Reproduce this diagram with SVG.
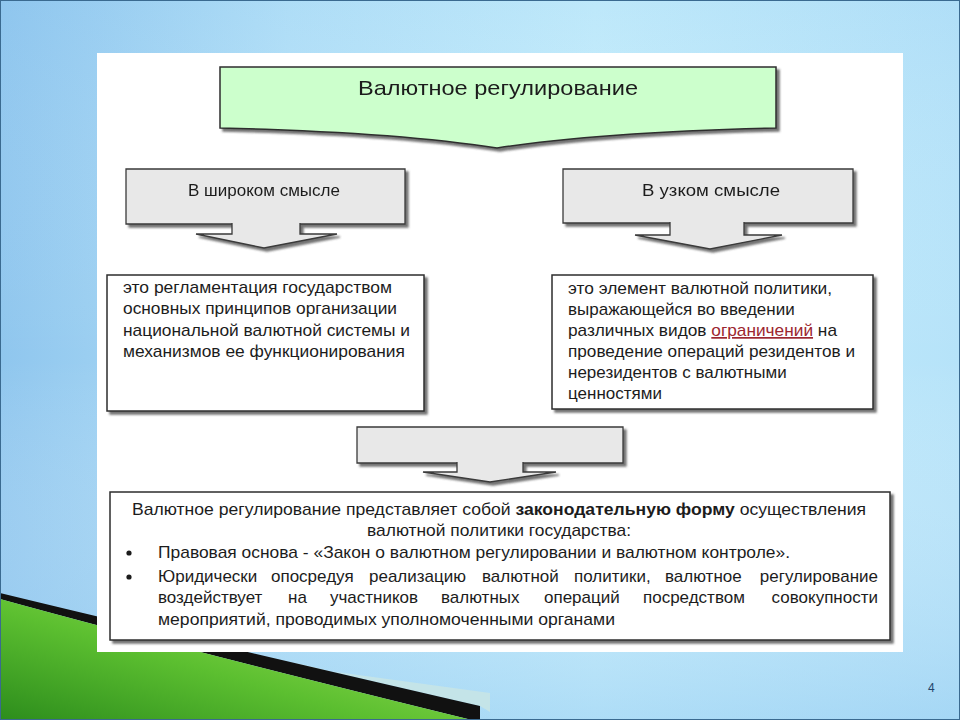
<svg xmlns="http://www.w3.org/2000/svg" width="960" height="720" viewBox="0 0 960 720">
<style>
.t{font-family:"Liberation Sans",Arial,"Noto Sans",sans-serif;font-size:17px;fill:#1c1c1c}
.ttl{font-size:21px}
.lbl{font-size:17px}
.b{font-weight:bold}
.box{fill:#ffffff;stroke:#2e2e2e;stroke-width:1.5}
.grey{fill:#e8e8e8;stroke:#3a3a3a;stroke-width:1.3}
.red{fill:#9c2630;text-decoration:underline}
</style>
<defs>
<linearGradient id="bg" x1="0" y1="0" x2="1" y2="0">
<stop offset="0" stop-color="#8fc6ee"/>
<stop offset="0.3" stop-color="#b4e1f8"/>
<stop offset="0.62" stop-color="#c6eefc"/>
<stop offset="1" stop-color="#b6e3f9"/>
</linearGradient>
<linearGradient id="bgv" x1="0" y1="0" x2="0" y2="1">
<stop offset="0" stop-color="#8cc4ee" stop-opacity="0.15"/>
<stop offset="0.5" stop-color="#ffffff" stop-opacity="0"/>
<stop offset="1" stop-color="#90c8f0" stop-opacity="0.45"/>
</linearGradient>
<linearGradient id="green" x1="0" y1="1" x2="0.9" y2="0.2">
<stop offset="0" stop-color="#2c8c1c"/>
<stop offset="0.5" stop-color="#5cbf30"/>
<stop offset="1" stop-color="#9ae055"/>
</linearGradient>
<filter id="sh" x="-5%" y="-5%" width="115%" height="125%">
<feDropShadow dx="3" dy="3" stdDeviation="1.2" flood-color="#444" flood-opacity="0.75"/>
</filter>
</defs>

<g id="background">
<rect x="0" y="0" width="960" height="720" fill="url(#bg)"/>
<rect x="0" y="0" width="960" height="720" fill="url(#bgv)"/>
<path d="M190,652 L490,693 L490,712 L480,706 L400,687.5 L300,664 L250,656 L230,652 Z" fill="#c4e4e8"/>
<path d="M0,593 Q160,632 480,706 L480,722 Q170,646 0,599 Z" fill="#111"/>
<path d="M0,599 Q170,646 480,722 L0,722 Z" fill="url(#green)"/>
<rect x="0.5" y="0.5" width="959" height="719" fill="none" stroke="#3a6a90" stroke-width="1"/>
<rect x="97" y="53" width="806" height="599" fill="#ffffff"/>
</g>

<g id="title" filter="url(#sh)">
<path d="M220,67 H776 V128 Q600,132 497,148 Q395,132 220,128 Z" fill="#ccffcc" stroke="#2e2e2e" stroke-width="1.5"/>
<text class="t ttl" x="358" y="95" textLength="280" lengthAdjust="spacingAndGlyphs">Валютное регулирование</text>
</g>

<g id="wide-sense" filter="url(#sh)">
<path class="grey" d="M232,224 H126 V169 H405 V224 H300"/>
<text class="t lbl" x="188" y="196" textLength="152" lengthAdjust="spacingAndGlyphs">В широком смысле</text>
</g>

<g id="narrow-sense" filter="url(#sh)">
<path class="grey" d="M670,223 H563 V169 H853 V223 H744"/>
<text class="t lbl" x="642" y="196" textLength="138" lengthAdjust="spacingAndGlyphs">В узком смысле</text>
</g>

<g id="wide-definition">
<rect class="box" x="107" y="275" width="317" height="136" filter="url(#sh)"/>
<text class="t" x="123" y="293" textLength="269" lengthAdjust="spacingAndGlyphs">это регламентация государством</text>
<text class="t" x="123" y="314" textLength="274" lengthAdjust="spacingAndGlyphs">основных принципов организации</text>
<text class="t" x="123" y="336" textLength="287" lengthAdjust="spacingAndGlyphs">национальной валютной системы и</text>
<text class="t" x="123" y="357" textLength="282" lengthAdjust="spacingAndGlyphs">механизмов ее функционирования</text>
</g>

<g id="narrow-definition">
<rect class="box" x="552" y="275" width="321" height="134" filter="url(#sh)"/>
<text class="t" x="568" y="294" textLength="264" lengthAdjust="spacingAndGlyphs">это элемент валютной политики,</text>
<text class="t" x="568" y="315">выражающейся во введении</text>
<text class="t" x="568" y="336" textLength="269" lengthAdjust="spacingAndGlyphs">различных видов <tspan class="red">ограничений</tspan> на</text>
<text class="t" x="568" y="357" textLength="287" lengthAdjust="spacingAndGlyphs">проведение операций резидентов и</text>
<text class="t" x="568" y="378">нерезидентов с валютными</text>
<text class="t" x="568" y="399">ценностями</text>
</g>

<g id="merge" filter="url(#sh)">
<path class="grey" d="M457,463 H357 V427 H623 V463 H523"/>
</g>

<g id="summary">
<rect class="box" x="110" y="492" width="780" height="148" filter="url(#sh)"/>
<text class="t" x="132" y="515" textLength="734" lengthAdjust="spacingAndGlyphs">Валютное регулирование представляет собой  <tspan class="b">законодательную форму</tspan> осуществления</text>
<text class="t" x="367" y="536" textLength="264" lengthAdjust="spacingAndGlyphs">валютной политики государства:</text>
<circle cx="129" cy="553" r="2.6" fill="#1c1c1c"/>
<text class="t" x="158" y="558" textLength="632" lengthAdjust="spacingAndGlyphs">Правовая основа - «Закон о валютном регулировании и валютном контроле».</text>
<circle cx="129" cy="577" r="2.6" fill="#1c1c1c"/>
<text class="t" y="582"><tspan x="158">Юридически</tspan><tspan x="271">опосредуя</tspan><tspan x="369">реализацию</tspan><tspan x="482">валютной</tspan><tspan x="574">политики,</tspan><tspan x="665">валютное</tspan></text>
<text class="t" x="878" y="582" text-anchor="end">регулирование</text>
<text class="t" y="603"><tspan x="158">воздействует</tspan><tspan x="288">на</tspan><tspan x="330">участников</tspan><tspan x="441">валютных</tspan><tspan x="544">операций</tspan><tspan x="643">посредством</tspan></text>
<text class="t" x="878" y="603" text-anchor="end">совокупности</text>
<text class="t" x="158" y="625" textLength="457" lengthAdjust="spacingAndGlyphs">мероприятий, проводимых  уполномоченными органами</text>
</g>

<g id="connectors" filter="url(#sh)">
<path class="grey" d="M232,223 V234 H196 L264,248 L337,234 H300 V223"/>
<path class="grey" d="M670,222 V235 H635 L710,249 L782,235 H744 V222"/>
<path class="grey" d="M457,462 V472 H423 L490,482 L556,472 H523 V462"/>
</g>

<text class="t" x="928" y="692" style="font-size:12px;fill:#24456a">4</text>
</svg>
